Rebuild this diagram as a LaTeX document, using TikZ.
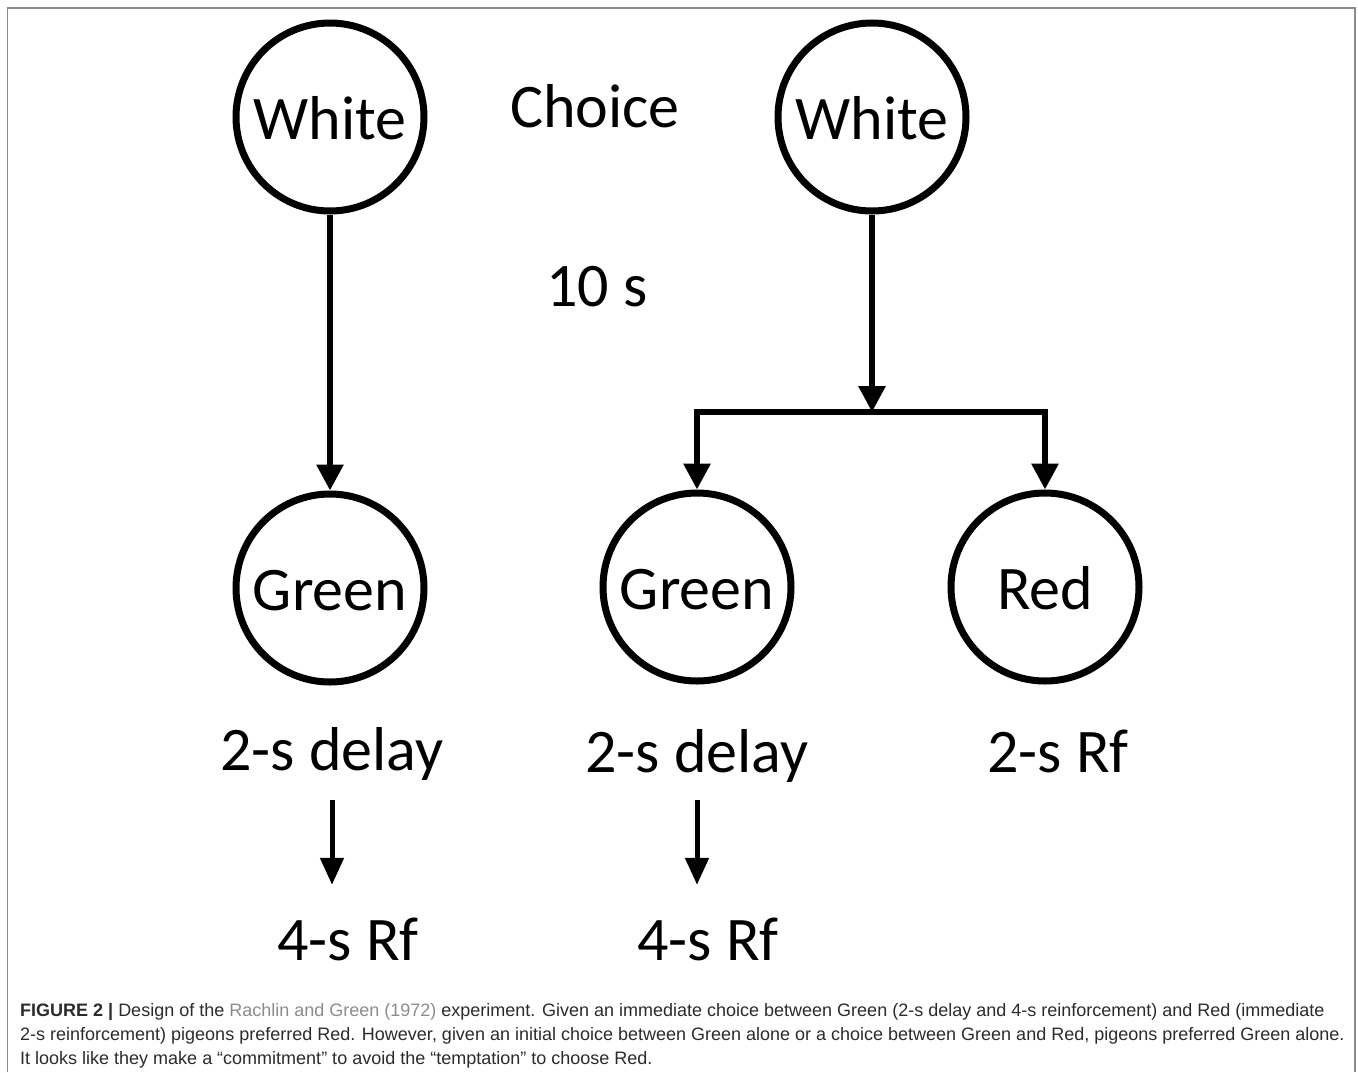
\documentclass[tikz,border=0pt]{standalone}
\usepackage{fontspec}
\setmainfont{Carlito}
\newfontfamily\capfont{Liberation Sans}
\usepackage{xcolor}
\usetikzlibrary{arrows.meta,positioning}

\definecolor{captext}{HTML}{2B2B2B}
\definecolor{caplink}{HTML}{8C8C8C}
\definecolor{framegray}{HTML}{8A8A8A}

\begin{document}
\begin{tikzpicture}[->, >={Triangle[length=26pt,width=26pt]}, x=1pt, y=-1pt, node distance=471pt,
  stim/.style={circle, draw, line width=7pt, minimum size=188pt, inner sep=0pt, text height=44pt, text depth=0pt, font=\fontsize{62}{74}\selectfont},
  lab/.style={anchor=base, inner sep=0pt, text height=40pt, text depth=14pt, font=\fontsize{62}{74}\selectfont},
  link/.style={line width=6pt},
  small/.style={line width=5pt, >={Triangle[length=27pt,width=23pt]}},
  capline/.style={anchor=base west, inner sep=0pt, text=captext, font=\capfont\fontsize{18}{24}\selectfont}]

\useasboundingbox (0,0) rectangle (1358,1072);
\draw[-, framegray, line width=1.5pt] (7.5,1072) |- (1355,8) -- (1355,1072);

\node[stim] (WhiteL) at (330,117)          {White};
\node[stim] (GreenL) [below of = WhiteL]   {Green};
\node[stim] (WhiteR) at (872,117)          {White};
\node[stim] (GreenM) at (697,587)          {Green};
\node[stim] (Red)    [right of = GreenM, node distance=348pt] {Red};

\node[lab] (Choice) at (595,127) {Choice};
\node[lab] (Wait)   at (597,306) {10 s};

\node[lab] (DelayL) at (332,770)  {2-s delay};
\node[lab] (DelayM) at (697,772)  {2-s delay};
\node[lab] (RfR)    at (1058,772) {2-s Rf};
\node[lab] (RfL)    at (348,960)  {4-s Rf};
\node[lab] (RfM)    at (708,960)  {4-s Rf};

\coordinate (Fork) at (872,412);

\path(WhiteL) edge[link]   (GreenL);
\path(WhiteR) edge[link]   (Fork);
\draw[link] (Fork) -| (GreenM);
\draw[link] (Fork) -| (Red);

\path(DelayL) edge[small, shorten <=16pt, shorten >=35pt]   (DelayL |- RfL.north);
\path(DelayM) edge[small, shorten <=14pt, shorten >=35pt]   (DelayM |- RfM.north);

\node[capline] (CapA) at (20,1016) {{\bfseries FIGURE 2 |} Design of the \textcolor{caplink}{Rachlin and Green (1972)} experiment. Given an immediate choice between Green (2-s delay and 4-s reinforcement) and Red (immediate};
\node[capline] (CapB) at (20,1040) {2-s reinforcement) pigeons preferred Red. However, given an initial choice between Green alone or a choice between Green and Red, pigeons preferred Green alone.};
\node[capline] (CapC) at (20,1064) {It looks like they make a “commitment” to avoid the “temptation” to choose Red.};

\end{tikzpicture}
\end{document}
